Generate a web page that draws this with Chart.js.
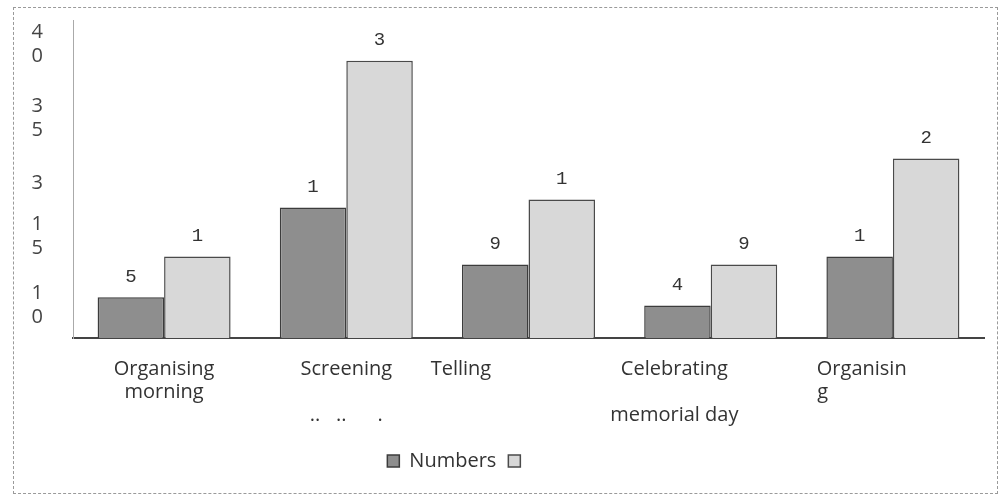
<!DOCTYPE html>
<html>
<head>
<meta charset="utf-8">
<script src="https://cdn.jsdelivr.net/npm/chart.js@4.4.1/dist/chart.umd.min.js"></script>
<style>
  html, body { margin: 0; padding: 0; background: #fff; }
  #wrap { position: relative; width: 1006px; height: 502px; background: #fff; }
  #frame { position: absolute; left: 13px; top: 7px; width: 985px; height: 487px; border: 1px dashed #9a9a9a; box-sizing: border-box; pointer-events: none; }
</style>
</head>
<body>
<div id="wrap">
  <canvas id="chart" width="1006" height="502"></canvas>
  <div id="frame"></div>
</div>
<script>
// categories, as printed (wrapped, off-centre) under the bars
const categories = [
  ['Organising', 'morning'],
  ['Screening', '', '..   ..      .'],
  ['Telling                          '],
  ['Celebrating              ', '', 'memorial day              '],
  ['Organisin            ', 'g                           ']
];
// series values
const numbersValues = [5, 16, 9, 4, 10];
const secondValues = [10, 34, 17, 9, 22];
// labels printed above the bars (truncated in the original)
const numbersLabels = ['5', '1', '9', '4', '1'];
const secondLabels = ['1', '3', '1', '9', '2'];
// y tick labels as printed (digits wrapped)
const yTickValues = [4, 12.5, 19, 27, 36];
const yTickLabels = [['1', '0'], ['1', '5'], ['3'], ['3', '5'], ['4', '0']];
// legend texts (second series has no name)
const seriesNames = ['Numbers', '                 '];

const barLabels = {
  id: 'barLabels',
  afterDatasetsDraw(chart) {
    const ctx = chart.ctx;
    const texts = [numbersLabels, secondLabels];
    ctx.save();
    ctx.font = '19px "Liberation Mono", "DejaVu Sans Mono", monospace';
    ctx.fillStyle = '#333';
    ctx.textAlign = 'center';
    ctx.textBaseline = 'bottom';
    chart.data.datasets.forEach((ds, i) => {
      chart.getDatasetMeta(i).data.forEach((bar, j) => {
        ctx.fillText(texts[i][j], bar.x, bar.y - 11);
      });
    });
    ctx.restore();
  }
};

new Chart(document.getElementById('chart'), {
  type: 'bar',
  data: {
    labels: categories,
    datasets: [
      {
        label: seriesNames[0],
        data: numbersValues,
        backgroundColor: '#8e8e8e',
        borderColor: '#3c3c3c',
        borderWidth: 1.5,
        barPercentage: 1,
        categoryPercentage: 0.73
      },
      {
        label: seriesNames[1],
        data: secondValues,
        backgroundColor: '#d8d8d8',
        borderColor: '#4a4a4a',
        borderWidth: 1.5,
        barPercentage: 1,
        categoryPercentage: 0.73
      }
    ]
  },
  options: {
    responsive: false,
    animation: false,
    layout: { padding: { left: 22, right: 22, top: 20, bottom: 21 } },
    plugins: {
      legend: {
        position: 'bottom',
        labels: {
          boxWidth: 12,
          boxHeight: 12,
          padding: 12,
          color: '#333',
          font: { family: '"Open Sans", sans-serif', size: 20 }
        }
      },
      tooltip: { enabled: false }
    },
    scales: {
      x: {
        grid: { display: false },
        border: { color: '#444', width: 2 },
        ticks: {
          color: '#333',
          maxRotation: 0,
          autoSkip: false,
          padding: 12,
          font: { family: '"Open Sans", sans-serif', size: 20, lineHeight: 1.15 }
        }
      },
      y: {
        min: 0,
        max: 39,
        grid: { display: false },
        border: { color: '#aaa', width: 1 },
        afterBuildTicks: (scale) => {
          scale.ticks = yTickValues.map(v => ({ value: v }));
        },
        afterFit: (scale) => {
          scale.width = 51;
          scale.paddingTop = 0;
          scale.paddingBottom = 0;
        },
        ticks: {
          color: '#444',
          padding: 22,
          font: { family: '"Open Sans", sans-serif', size: 20, lineHeight: 1.2 },
          callback: (value, index) => yTickLabels[index]
        }
      }
    }
  },
  plugins: [barLabels]
});
</script>
</body>
</html>
